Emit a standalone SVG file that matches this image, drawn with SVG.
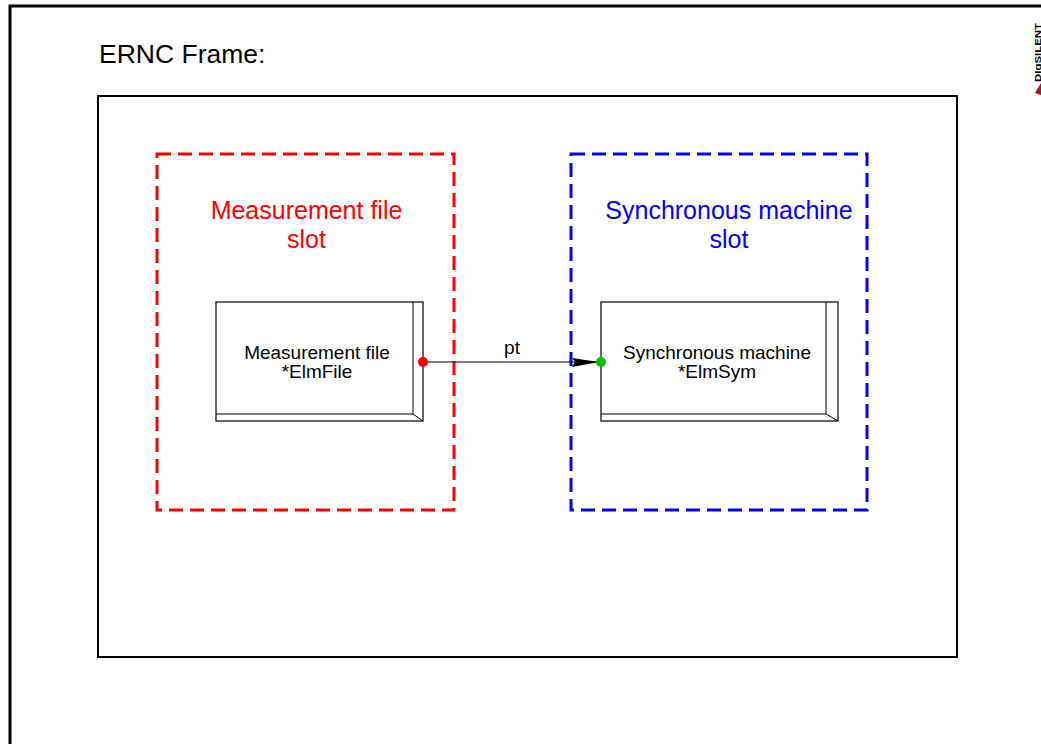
<svg xmlns="http://www.w3.org/2000/svg" width="1041" height="744" viewBox="0 0 1041 744">
<defs>
<style>
.frame{fill:none;stroke:#000;stroke-width:2}
.box{fill:#fff;stroke:#000;stroke-width:1.2}
.edge{fill:none;stroke:#000;stroke-width:1}
.slot{fill:none;stroke-width:3;stroke-dasharray:14 7}
.lbl{font-family:"Liberation Sans",Arial,sans-serif;font-size:19px;fill:#000;text-anchor:middle}
.slotlbl{font-family:"Liberation Sans",Arial,sans-serif;font-size:25px;text-anchor:middle}
</style>
<marker id="arr" markerWidth="28" markerHeight="12" refX="27" refY="6" orient="auto" markerUnits="userSpaceOnUse">
<path d="M0,2 L27,6 L0,11 L3,6 Z" fill="#000"/>
</marker>
</defs>
<rect width="1041" height="744" fill="#fff"/>
<g id="outer-frame">
<path d="M10,744 L10,6 L1041,6" fill="none" stroke="#000" stroke-width="3"/>
</g>
<g id="logo">
<text transform="translate(1040.5,82) rotate(-90)" font-family="Liberation Sans,Arial,sans-serif" font-size="9" font-weight="bold" fill="#000" textLength="59" lengthAdjust="spacingAndGlyphs">DIgSILENT</text>
<path d="M1035,93 L1041,83 L1041,95 Z" fill="#a01818"/>
</g>
<g id="title">
<text x="99" y="63" font-family="Liberation Sans,Arial,sans-serif" font-size="26.5" fill="#000">ERNC Frame:</text>
</g>
<g id="ernc-frame">
<rect x="98" y="96" width="859" height="561" class="frame"/>
</g>
<g id="slot-measurement">
<rect x="157" y="154" width="297" height="356" class="slot" stroke="#ff0000"/>
<text class="slotlbl" fill="#ff0000"><tspan x="306.5" y="219">Measurement file</tspan><tspan x="306.5" y="248">slot</tspan></text>
</g>
<g id="slot-sync">
<rect x="571" y="154" width="296" height="356" class="slot" stroke="#0000ff"/>
<text class="slotlbl" fill="#0000ff"><tspan x="729" y="219">Synchronous machine</tspan><tspan x="729" y="248">slot</tspan></text>
</g>
<g id="node-measurement">
<rect x="216" y="302" width="207" height="119" class="box"/>
<path d="M413,302 L413,414 L216,414 M413,414 L423,421" class="edge"/>
<text class="lbl"><tspan x="317" y="358.5">Measurement file</tspan><tspan x="317" y="377.5">*ElmFile</tspan></text>
</g>
<g id="node-sync">
<rect x="601" y="302" width="237" height="119" class="box"/>
<path d="M826,302 L826,414 L601,414 M826,414 L838,421" class="edge"/>
<text class="lbl"><tspan x="717" y="358.5">Synchronous machine</tspan><tspan x="717" y="377.5">*ElmSym</tspan></text>
</g>
<g id="connectors">
<line x1="423" y1="362" x2="599" y2="362" stroke="#000" stroke-width="1" marker-end="url(#arr)"/>
<text x="512" y="354" class="lbl">pt</text>
<circle cx="423" cy="362" r="5" fill="#ff0000"/>
<circle cx="601" cy="362" r="5" fill="#00c000"/>
</g>
</svg>
